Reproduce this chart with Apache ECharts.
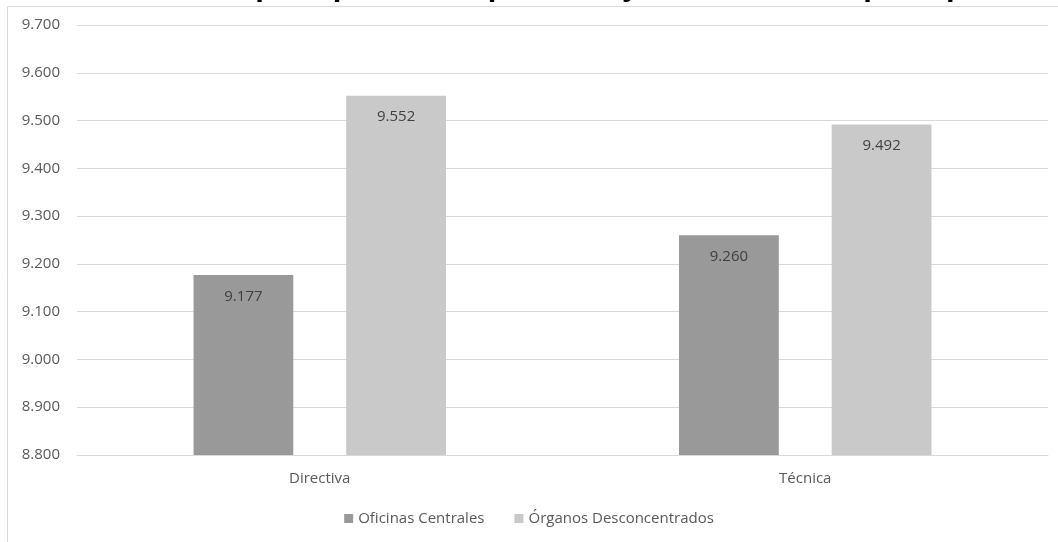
<!DOCTYPE html>
<html><head><meta charset="utf-8">
<script src="https://cdn.jsdelivr.net/npm/echarts@6/dist/echarts.min.js"></script>
<style>html,body{margin:0;padding:0;background:#fff}#c{width:1058px;height:542px}</style>
</head><body><div id="c"></div>
<script>
const titleText = 'Gráfico 1. Promedio por tipo de competencia y área de desempeño por sede';
const categories = ['Directiva', 'Técnica'];
const seriesNames = ['Oficinas Centrales', 'Órganos Desconcentrados'];
const oficinasCentrales = [9.177, 9.260];
const organosDesconcentrados = [9.552, 9.492];
const yMin = 8.8, yMax = 9.7, yStep = 0.1;
const colors = ['#999999', '#c9c9c9'];
const font = '"Open Sans", "Noto Sans", sans-serif';

const chart = echarts.init(document.getElementById('c'), null, {renderer: 'canvas'});
const label = {
  show: true, position: 'insideTop', distance: 14,
  color: '#404040', fontSize: 15, fontFamily: font,
  formatter: p => p.value.toFixed(3)
};
chart.setOption({
  animation: false,
  color: colors,
  graphic: [
    {type: 'rect', silent: true, z: 0, shape: {x: 7.5, y: 6.5, width: 1200, height: 700},
     style: {fill: 'none', stroke: '#d9d9d9', lineWidth: 1}},
    {type: 'text', silent: true, z: 10, x: -48, y: -14,
     style: {text: titleText, font: 'bold 31px "Liberation Sans", Arial, sans-serif', fill: '#000',
             textAlign: 'left', textVerticalAlign: 'middle'}}
  ],
  grid: {left: 77, right: 10, top: 25, bottom: 87, containLabel: false},
  legend: {
    bottom: 11, left: 'center', itemWidth: 9, itemHeight: 9, itemGap: 30,
    icon: 'rect',
    textStyle: {color: '#595959', fontSize: 15, fontFamily: font},
    data: seriesNames
  },
  xAxis: {
    type: 'category', data: categories,
    axisLine: {show: true, lineStyle: {color: '#d9d9d9'}},
    axisTick: {show: false},
    axisLabel: {color: '#595959', fontSize: 15, fontFamily: font, margin: 16}
  },
  yAxis: {
    type: 'value', min: yMin, max: yMax, interval: yStep,
    axisLine: {show: false}, axisTick: {show: false},
    splitLine: {lineStyle: {color: '#d9d9d9'}},
    axisLabel: {color: '#595959', fontSize: 15, fontFamily: font, margin: 17,
                formatter: v => v.toFixed(3)}
  },
  series: [
    {name: seriesNames[0], type: 'bar', data: oficinasCentrales, barGap: '53%', barCategoryGap: '48%', label},
    {name: seriesNames[1], type: 'bar', data: organosDesconcentrados, label}
  ]
});
</script></body></html>
